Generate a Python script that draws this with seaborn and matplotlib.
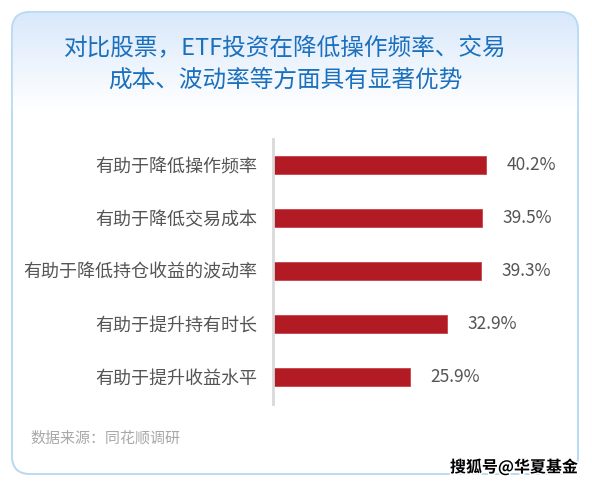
import numpy as np
import pandas as pd
import matplotlib
matplotlib.use("Agg")
import matplotlib.pyplot as plt
from matplotlib.patches import FancyBboxPatch
from matplotlib.colors import LinearSegmentedColormap
import matplotlib.patheffects as pe
import seaborn as sns

categories = ["有助于降低操作频率", "有助于降低交易成本", "有助于降低持仓收益的波动率",
              "有助于提升持有时长", "有助于提升收益水平"]
values = [40.2, 39.5, 39.3, 32.9, 25.9]
title_lines = ["对比股票，ETF投资在降低操作频率、交易", "成本、波动率等方面具有显著优势"]
source = "数据来源：同花顺调研"
watermark = "搜狐号@华夏基金"

sns.set_theme(style="white")
plt.rcParams['font.family'] = ['Noto Sans CJK SC', 'DejaVu Sans']

W, H = 592, 487
fig = plt.figure(figsize=(W / 100, H / 100), dpi=100)
fig.patch.set_facecolor("white")

# background card axes (pixel coords)
bg = fig.add_axes([0, 0, 1, 1])
bg.set_xlim(0, W)
bg.set_ylim(H, 0)
bg.axis("off")
card = FancyBboxPatch((12, 12), 566, 462, boxstyle="round,pad=0,rounding_size=18",
                      facecolor="white", edgecolor="#b8daf4", linewidth=1.2, zorder=1)
bg.add_patch(card)
grad = np.linspace(0, 1, 100).reshape(-1, 1)
cmap = LinearSegmentedColormap.from_list("g", ["#d9e8fb", "#ffffff"])
im = bg.imshow(grad, extent=(12, 578, 110, 12), cmap=cmap, aspect="auto", zorder=2)
im.set_clip_path(card)
border = FancyBboxPatch((12, 12), 566, 462, boxstyle="round,pad=0,rounding_size=18",
                        facecolor="none", edgecolor="#b8daf4", linewidth=1.2, zorder=3)
bg.add_patch(border)

# title
bg.text(285, 49, title_lines[0], ha="center", va="center", fontsize=17,
        color="#1b70bd", fontweight="medium", zorder=4)
bg.text(285, 80, title_lines[1], ha="center", va="center", fontsize=17,
        color="#1b70bd", fontweight="medium", zorder=4)
bg.text(30, 438, source, ha="left", va="center", fontsize=10.8, color="#a8a8a8", zorder=4)
bg.text(578, 467, watermark, ha="right", va="center", fontsize=11.5, color="black",
        fontweight="bold", zorder=5,
        path_effects=[pe.withStroke(linewidth=2.5, foreground="white")])

# bar axes
ax_left, ax_right = 273, 565
ax_top, ax_bottom = 138.5, 403.5
ax = fig.add_axes([ax_left / W, 1 - ax_bottom / H, (ax_right - ax_left) / W,
                   (ax_bottom - ax_top) / H])
ax.patch.set_alpha(0)
df = pd.DataFrame({"cat": categories, "val": values})
sns.barplot(data=df, x="val", y="cat", orient="h", color="#b31b24", width=0.35,
            saturation=1, ax=ax, edgecolor="#c8434a", linewidth=0.6)
ax.set_xlim(0, (ax_right - ax_left) / 5.3)
ax.set_ylim(4.5, -0.5)
ax.set_xlabel("")
ax.set_ylabel("")
ax.set_xticks([])
for s in ["top", "right", "bottom"]:
    ax.spines[s].set_visible(False)
ax.spines["left"].set_color("#d9d9d9")
ax.spines["left"].set_linewidth(2)
ax.tick_params(axis="y", length=0, pad=11, labelsize=13, labelcolor="#555555")
for i, v in enumerate(values):
    ax.text(v + 3.8, i, f"{v}%", ha="left", va="center", fontsize=12.5, color="#555555")

fig.savefig("out.png", dpi=100)
